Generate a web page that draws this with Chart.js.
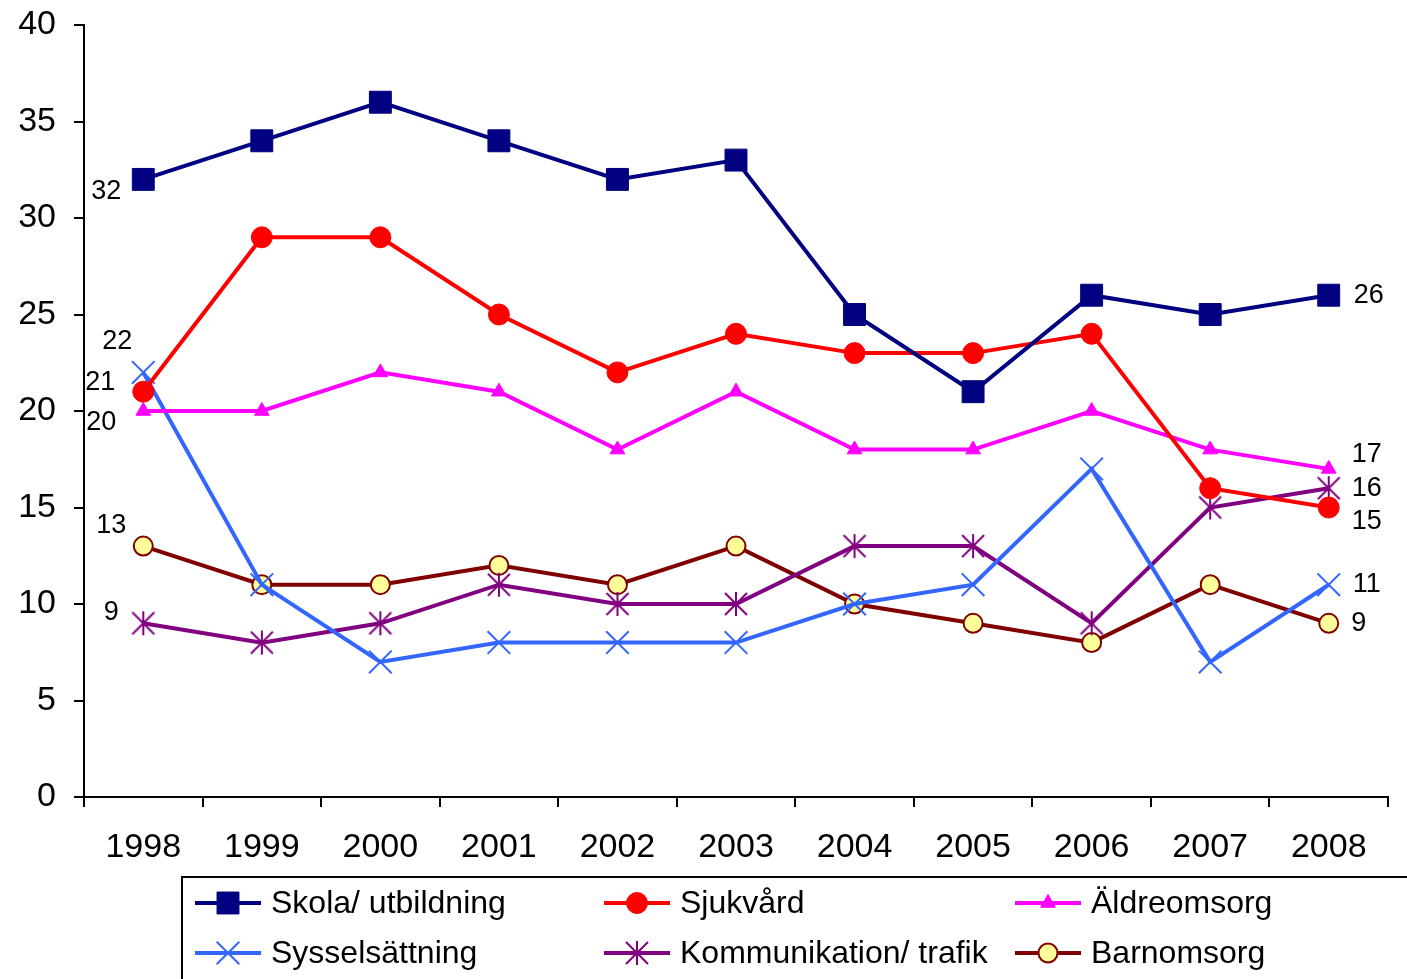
<!DOCTYPE html>
<html>
<head>
<meta charset="utf-8">
<script src="https://cdn.jsdelivr.net/npm/chart.js@4.4.1/dist/chart.umd.min.js"></script>
<style>
  html, body { margin: 0; padding: 0; background: #fff; }
  #wrap { width: 1407px; height: 979px; position: relative; }
</style>
</head>
<body>
<div id="wrap"><canvas id="chart"></canvas></div>
<script>
// Data
const years = ['1998', '1999', '2000', '2001', '2002', '2003', '2004', '2005', '2006', '2007', '2008'];
const skola = [32, 34, 36, 34, 32, 33, 25, 21, 26, 25, 26];
const sjukvard = [21, 29, 29, 25, 22, 24, 23, 23, 24, 16, 15];
const aldreomsorg = [20, 20, 22, 21, 18, 21, 18, 18, 20, 18, 17];
const sysselsattning = [22, 11, 7, 8, 8, 8, 10, 11, 17, 7, 11];
const kommunikation = [9, 8, 9, 11, 10, 10, 13, 13, 9, 15, 16];
const barnomsorg = [13, 11, 11, 12, 11, 13, 10, 9, 8, 11, 9];
const seriesNames = ['Skola/ utbildning', 'Sjukvård', 'Äldreomsorg', 'Sysselsättning', 'Kommunikation/ trafik', 'Barnomsorg'];

const FONT = "'Liberation Sans', Arial, sans-serif";

// asterisk marker (X + vertical line), like Excel's star
function makeStar(color) {
    const c = document.createElement('canvas');
    c.width = 26; c.height = 26;
    const g = c.getContext('2d');
    g.strokeStyle = color;
    g.lineWidth = 2;
    g.beginPath();
    g.moveTo(2, 2); g.lineTo(24, 24);
    g.moveTo(24, 2); g.lineTo(2, 24);
    g.moveTo(13, 1); g.lineTo(13, 25);
    g.stroke();
    return c;
}
const starImg = makeStar('#800080');

// label offsets for first / last point (dx, dy)
const labelOffsets = [
    [[-37, 12], [40, 0]],
    [[-43, -9], [38, 14]],
    [[-42, 12], [38, -14]],
    [[-26, -31], [38, 0]],
    [[-32, -11], [38, 0]],
    [[-32, -21], [30, 0]]
];

const endLabels = {
    id: 'endLabels',
    afterDatasetsDraw(chart) {
        const ctx = chart.ctx;
        ctx.save();
        ctx.font = '27px ' + FONT;
        ctx.fillStyle = '#000';
        ctx.textAlign = 'center';
        ctx.textBaseline = 'middle';
        chart.data.datasets.forEach((ds, i) => {
            const pts = chart.getDatasetMeta(i).data;
            const ends = [0, pts.length - 1];
            ends.forEach((idx, k) => {
                const p = pts[idx];
                const off = labelOffsets[i][k];
                ctx.fillText(String(ds.data[idx]), p.x + off[0], p.y + off[1]);
            });
        });
        ctx.restore();
    }
};

const boxLegend = {
    id: 'boxLegend',
    afterDraw(chart) {
        const ctx = chart.ctx;
        ctx.save();
        ctx.strokeStyle = '#000';
        ctx.lineWidth = 2;
        ctx.strokeRect(182, 877, 1240, 120);
        const colX = [195, 604, 1015];
        const rowY = [903, 953];
        ctx.font = '32px ' + FONT;
        ctx.textBaseline = 'middle';
        ctx.textAlign = 'left';
        chart.data.datasets.forEach((ds, i) => {
            const x = colX[i % 3];
            const y = rowY[Math.floor(i / 3)];
            ctx.strokeStyle = ds.borderColor;
            ctx.lineWidth = ds.borderWidth;
            ctx.beginPath();
            ctx.moveTo(x, y);
            ctx.lineTo(x + 66, y);
            ctx.stroke();
            ctx.fillStyle = ds.pointBackgroundColor;
            ctx.strokeStyle = ds.pointBorderColor;
            ctx.lineWidth = ds.pointBorderWidth;
            Chart.helpers.drawPoint(ctx, {
                pointStyle: ds.pointStyle,
                radius: ds.pointRadius,
                borderWidth: ds.pointBorderWidth,
                rotation: 0
            }, x + 33, y);
            ctx.fillStyle = '#000';
            ctx.fillText(seriesNames[i], x + 76, y + 1);
        });
        ctx.restore();
    }
};

function series(label, data, color, style, radius, bg, border, bw) {
    return {
        label: label,
        data: data,
        borderColor: color,
        backgroundColor: color,
        borderWidth: 4,
        tension: 0,
        pointStyle: style,
        pointRadius: radius,
        pointHoverRadius: radius,
        pointBackgroundColor: bg,
        pointBorderColor: border,
        pointBorderWidth: bw
    };
}

new Chart(document.getElementById('chart').getContext('2d'), {
    type: 'line',
    data: {
        labels: years,
        datasets: [
            series(seriesNames[0], skola, '#000080', 'rect', 15.5, '#000080', '#000080', 1),
            series(seriesNames[1], sjukvard, '#ff0000', 'circle', 10.5, '#ff0000', '#ff0000', 1),
            series(seriesNames[2], aldreomsorg, '#ff00ff', 'triangle', 8.5, '#ff00ff', '#ff00ff', 1),
            series(seriesNames[3], sysselsattning, '#3366ff', 'crossRot', 16, '#3366ff', '#3366ff', 2),
            series(seriesNames[4], kommunikation, '#800080', starImg, 13, '#800080', '#800080', 2),
            series(seriesNames[5], barnomsorg, '#800000', 'circle', 9.5, '#ffff99', '#800000', 2)
        ]
    },
    options: {
        responsive: true,
        maintainAspectRatio: false,
        animation: false,
        layout: { autoPadding: false, padding: { left: 0, right: 19, top: 25, bottom: 112 } },
        plugins: {
            legend: { display: false },
            tooltip: { enabled: false }
        },
        scales: {
            x: {
                offset: true,
                grid: { offset: true, drawOnChartArea: false, drawTicks: true, tickLength: 10, color: '#000', lineWidth: 2 },
                border: { color: '#000', width: 2 },
                ticks: { color: '#000', font: { family: FONT, size: 34 }, padding: 20, maxRotation: 0 },
                afterFit(scale) { scale.height = 70; scale.paddingLeft = 0; scale.paddingRight = 0; }
            },
            y: {
                min: 0,
                max: 40,
                grid: { drawOnChartArea: false, drawTicks: true, tickLength: 10, color: '#000', lineWidth: 2 },
                border: { color: '#000', width: 2 },
                ticks: { stepSize: 5, color: '#000', font: { family: FONT, size: 34 }, padding: 18 },
                afterFit(scale) { scale.width = 84; scale.paddingTop = 0; scale.paddingBottom = 0; }
            }
        }
    },
    plugins: [endLabels, boxLegend]
});
</script>
</body>
</html>
